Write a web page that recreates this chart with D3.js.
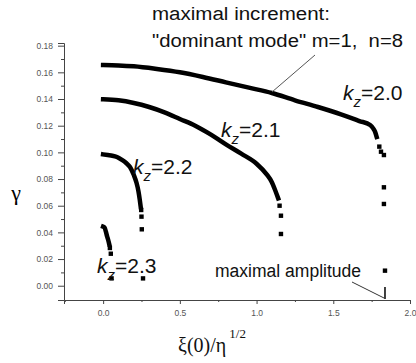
<!DOCTYPE html>
<html>
<head>
<meta charset="utf-8">
<script src="https://cdn.jsdelivr.net/npm/d3@7"></script>
<style>
  body { margin: 0; background: #fff; }
  svg { display: block; }
</style>
</head>
<body>
<div id="chart"></div>
<script>
// growth rate gamma vs xi(0)/eta^(1/2), four kz curves
// dense part of each curve (drawn as a thick line)
const k20Xi    = [0, 0.1, 0.2, 0.35, 0.5, 0.65, 0.8, 0.95, 1.1, 1.25, 1.4, 1.55, 1.67, 1.74, 1.76, 1.772, 1.783];
const k20Gamma = [0.1655, 0.1652, 0.1645, 0.1625, 0.16, 0.1565, 0.1525, 0.1485, 0.1445, 0.139, 0.134, 0.1285, 0.1235, 0.1205, 0.118, 0.1155, 0.1115];
const k21Xi    = [0, 0.1, 0.2, 0.3, 0.4, 0.5, 0.6, 0.7, 0.8, 0.9, 1.0, 1.066, 1.098, 1.12, 1.141];
const k21Gamma = [0.1398, 0.139, 0.137, 0.134, 0.13, 0.125, 0.12, 0.1135, 0.106, 0.099, 0.0915, 0.0835, 0.078, 0.072, 0.0655];
const k22Xi    = [0, 0.03, 0.06, 0.09, 0.12, 0.15, 0.175, 0.2, 0.218, 0.23, 0.239, 0.245];
const k22Gamma = [0.0985, 0.098, 0.0975, 0.0965, 0.0945, 0.092, 0.089, 0.083, 0.077, 0.071, 0.0643, 0.059];
const k23Xi    = [0, 0.01, 0.018, 0.026, 0.033, 0.04];
const k23Gamma = [0.0443, 0.0435, 0.0405, 0.037, 0.0343, 0.031];

// sparse tail points (drawn as square markers)
const k20TailXi    = [1.8, 1.811, 1.83, 1.83, 1.83, 1.837];
const k20TailGamma = [0.1043, 0.1005, 0.098, 0.0738, 0.0613, 0.0113];
const k21TailXi    = [1.15, 1.159, 1.159];
const k21TailGamma = [0.06, 0.0525, 0.0388];
const k22TailXi    = [0.248, 0.25, 0.252, 0.26];
const k22TailGamma = [0.0568, 0.0518, 0.0423, 0.0055];
const k23TailXi    = [0.044, 0.05, 0.055];
const k23TailGamma = [0.0283, 0.024, 0.0055];

const xTicks = [0, 0.5, 1.0, 1.5, 2.0];
const xMinor = [-0.25, 0.25, 0.75, 1.25, 1.75];
const yTicks = [0, 0.02, 0.04, 0.06, 0.08, 0.10, 0.12, 0.14, 0.16, 0.18];
const yMinor = [0.01, 0.03, 0.05, 0.07, 0.09, 0.11, 0.13, 0.15, 0.17];

const width = 416, height = 363;

const svg = d3.select("#chart")
  .append("svg")
    .attr("width", width)
    .attr("height", height);

const x = d3.scaleLinear().domain([-0.255, 2]).range([64, 410]);
const y = d3.scaleLinear().domain([-0.0107, 0.182]).range([300, 43]);

const axisColor = "#444";
const tickFont = "Liberation Sans, Arial, sans-serif";

// X axis
svg.append("g")
  .attr("class", "xaxis")
  .attr("transform", `translate(0,${y.range()[0]})`)
  .call(d3.axisBottom(x).tickValues(xTicks).tickSize(4).tickPadding(6).tickFormat(d3.format(".1f")))
  .call(g => g.select(".domain").attr("stroke", axisColor))
  .call(g => g.selectAll(".tick line").attr("stroke", axisColor))
  .call(g => g.selectAll("text").attr("fill", "#555").attr("font-size", "8.5px").attr("font-family", tickFont));
svg.append("g")
  .attr("transform", `translate(0,${y.range()[0]})`)
  .call(d3.axisBottom(x).tickValues(xMinor).tickSize(2).tickFormat(""))
  .call(g => g.select(".domain").remove())
  .call(g => g.selectAll(".tick line").attr("stroke", axisColor));

// Y axis
svg.append("g")
  .attr("class", "yaxis")
  .attr("transform", `translate(${x.range()[0]},0)`)
  .call(d3.axisLeft(y).tickValues(yTicks).tickSize(6).tickPadding(5).tickFormat(d3.format(".2f")))
  .call(g => g.select(".domain").attr("stroke", axisColor))
  .call(g => g.selectAll(".tick line").attr("stroke", axisColor))
  .call(g => g.selectAll("text").attr("fill", "#555").attr("font-size", "8.5px").attr("font-family", tickFont));
svg.append("g")
  .attr("transform", `translate(${x.range()[0]},0)`)
  .call(d3.axisLeft(y).tickValues(yMinor).tickSize(3).tickFormat(""))
  .call(g => g.select(".domain").remove())
  .call(g => g.selectAll(".tick line").attr("stroke", axisColor));

// curves
const line = d3.line()
  .x(d => x(d[0]))
  .y(d => y(d[1]))
  .curve(d3.curveMonotoneX);

const curves = [
  [k20Xi, k20Gamma, k20TailXi, k20TailGamma],
  [k21Xi, k21Gamma, k21TailXi, k21TailGamma],
  [k22Xi, k22Gamma, k22TailXi, k22TailGamma],
  [k23Xi, k23Gamma, k23TailXi, k23TailGamma]
];

curves.forEach(c => {
  const pts = c[0].map((v, i) => [v, c[1][i]]);
  svg.append("path")
    .datum(pts)
    .attr("d", line)
    .attr("fill", "none")
    .attr("stroke", "#000")
    .attr("stroke-width", 4.5)
    .attr("stroke-linecap", "square");
  const tail = c[2].map((v, i) => [v, c[3][i]]);
  svg.selectAll(null)
    .data(tail)
    .join("rect")
      .attr("x", d => x(d[0]) - 2.2)
      .attr("y", d => y(d[1]) - 2.2)
      .attr("width", 4.4)
      .attr("height", 4.4)
      .attr("fill", "#000");
});

// annotations
const annFont = "Liberation Sans, Arial, sans-serif";
function plain(str, px, py, len) {
  svg.append("text")
    .attr("x", px).attr("y", py)
    .attr("font-family", annFont)
    .attr("font-size", "18px")
    .attr("fill", "#111")
    .attr("textLength", len)
    .attr("lengthAdjust", "spacingAndGlyphs")
    .style("white-space", "pre")
    .text(str);
}
plain("maximal increment:", 152, 20, 178);
plain("\"dominant mode\" m=1,\u00a0 n=8", 152, 47, 251);
plain("maximal amplitude", 215, 277, 146);

function kLabel(val, px, py) {
  const t = svg.append("text")
    .attr("x", px).attr("y", py)
    .attr("font-family", annFont)
    .attr("font-size", "21px")
    .attr("fill", "#111");
  t.append("tspan").attr("font-style", "italic").text("k");
  t.append("tspan").attr("font-style", "italic").attr("font-size", "15px").attr("dy", 7).text("z");
  t.append("tspan").attr("dy", -7).text("=" + val);
}
kLabel("2.0", 343, 100);
kLabel("2.1", 221, 137);
kLabel("2.2", 133, 174);
kLabel("2.3", 97, 273);

// pointer lines
svg.append("line")
  .attr("x1", 315).attr("y1", 55).attr("x2", 272).attr("y2", 92)
  .attr("stroke", "#555").attr("stroke-width", 1);
svg.append("line")
  .attr("x1", 352).attr("y1", 282).attr("x2", 384).attr("y2", 298)
  .attr("stroke", "#333").attr("stroke-width", 1);
svg.append("line")
  .attr("x1", x(1.837)).attr("y1", 287).attr("x2", x(1.837)).attr("y2", 299)
  .attr("stroke", "#000").attr("stroke-width", 1.5);

// axis titles
svg.append("text")
  .attr("x", 16).attr("y", 200)
  .attr("text-anchor", "middle")
  .attr("font-family", "Liberation Serif, Times New Roman, serif")
  .attr("font-size", "22px")
  .text("γ");

const xl = svg.append("text")
  .attr("x", 178).attr("y", 352)
  .attr("font-family", "Liberation Serif, Times New Roman, serif")
  .attr("font-size", "20px")
  .attr("fill", "#111");
xl.append("tspan").text("ξ(0)/η");
xl.append("tspan").attr("dy", -14).attr("dx", 3).attr("font-size", "13px").text("1/2");
</script>
</body>
</html>
